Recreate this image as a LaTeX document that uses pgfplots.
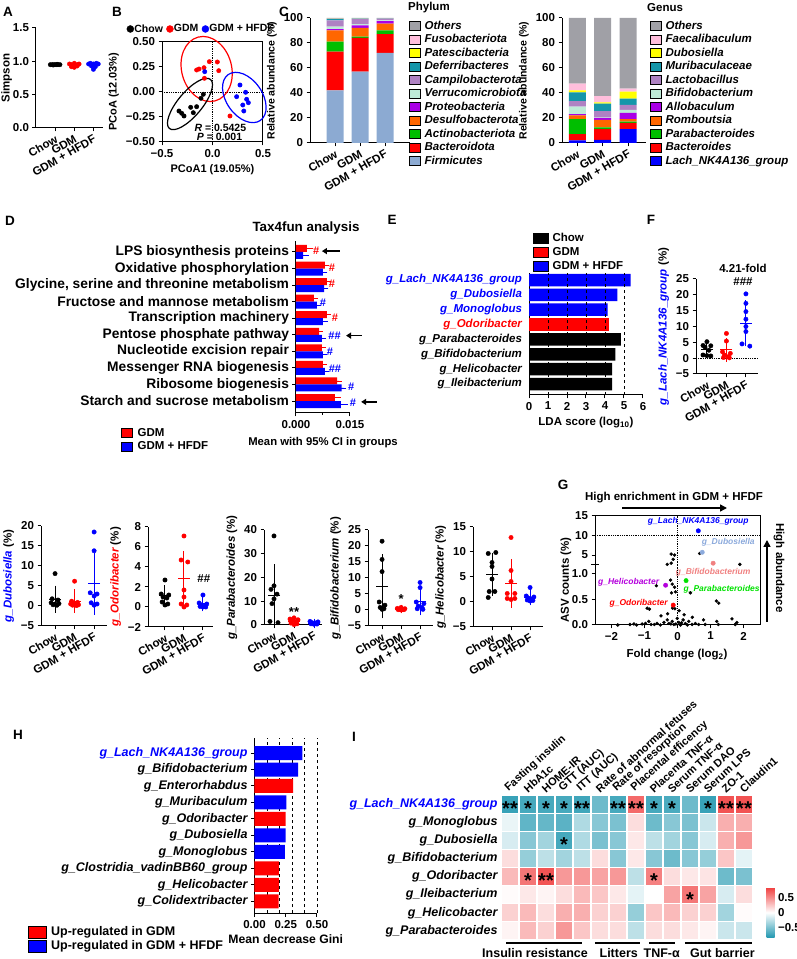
\documentclass[border=0pt]{standalone}
\usepackage{pgfplots}
\pgfplotsset{compat=1.18}
\usepackage{pgfplotstable}
\usepackage{fontspec}
\setmainfont{Liberation Sans}
\usetikzlibrary{arrows.meta}
\newcommand{\fs}[1]{\fontsize{#1}{#1}\selectfont\bfseries}
\definecolor{cRed}{RGB}{255,0,0}
\definecolor{cBlue}{RGB}{0,0,255}
\definecolor{cGray}{RGB}{160,160,166}
\definecolor{cPink}{RGB}{255,190,220}
\definecolor{cYel}{RGB}{255,255,0}
\definecolor{cTeal}{RGB}{20,150,170}
\definecolor{cLav}{RGB}{175,130,195}
\definecolor{cMint}{RGB}{190,235,215}
\definecolor{cPurp}{RGB}{170,0,230}
\definecolor{cOrng}{RGB}{255,102,0}
\definecolor{cGrn}{RGB}{0,190,0}
\definecolor{cFirm}{RGB}{140,170,210}
\definecolor{cDubo}{RGB}{140,170,220}
\definecolor{cSalm}{RGB}{240,128,128}
\definecolor{cLgrn}{RGB}{0,225,0}
\definecolor{cHeli}{RGB}{180,0,220}

\tikzset{sigstar/.style={font=\fs{20}, yshift=-4.5pt, inner sep=0pt}}
\pgfplotsset{
  gp/.style={scale only axis, anchor=south west, clip=false,
    axis x line*=bottom, axis y line*=left,
    axis line style={line width=1pt,-},
    tick align=outside, major tick length=3.5pt, minor tick length=2pt,
    tick style={black, line width=1pt},
    every tick label/.append style={font=\fs{11.5}},
    label style={font=\fs{11.5}},
    scaled ticks=false,
    /pgf/number format/assume math mode=true},
  dots/.style={only marks, mark=*, mark size=2.2pt},
  msd/.style={only marks, mark=-, mark size=6pt, mark options={line width=1pt},
    /pgfplots/error bars/y dir=both, /pgfplots/error bars/y explicit,
    /pgfplots/error bars/error bar style={line width=1pt},
    /pgfplots/error bars/error mark options={mark size=3.5pt, line width=1pt}},
  cat3/.style={xtick={1,2,3}, xticklabels={Chow,GDM,GDM + HFDF},
    xticklabel style={rotate=30, anchor=north east, inner sep=2pt}},
  sqleg/.style={legend image code/.code={\draw[##1] (0pt,-4.5pt) rectangle (11pt,4.5pt);}},
  sqlegE/.style={legend image code/.code={\draw[##1] (0pt,-5pt) rectangle (15pt,5pt);}},
  sqlegH/.style={legend image code/.code={\draw[##1] (0pt,-6pt) rectangle (18pt,6pt);}},
}

\pgfplotstableread{
x Firm Bact Acti Desu Prot Verr Camp Defe Pate Fuso Othe
1 42 31 8 9 1 2 5 1.2 0.1 0.2 0.5
2 57 27 1 7 2 1 4 0.4 0.1 0.2 0.3
3 72 15 3 5.5 2 0.5 1.5 0.1 0.1 0.1 0.2
}\phylum

\pgfplotstableread{
x Lach Bact Para Romb Allo Bifi Lact Muri Dubo Faec Othe
1 2 5 12 3 1 6 4.5 7 1.5 5.5 52.5
2 2.5 8.5 1.5 6 1.5 0.5 5 6 1 5 62.5
3 11 5 1 2 5 2.5 4 5 5.5 2.5 56.5
}\genus

\pgfplotstableread{
x y v
1 8 -0.75
2 8 -0.70
3 8 -0.70
4 8 -0.70
5 8 -0.72
6 8 -0.55
7 8 -0.70
8 8 0.65
9 8 -0.70
10 8 -0.68
11 8 -0.55
12 8 -0.75
13 8 0.75
14 8 0.75
1 7 -0.08
2 7 -0.60
3 7 -0.58
4 7 -0.62
5 7 -0.30
6 7 -0.45
7 7 -0.50
8 7 0.15
9 7 -0.55
10 7 -0.45
11 7 -0.50
12 7 -0.20
13 7 0.35
14 7 0.35
1 6 -0.15
2 6 -0.45
3 6 -0.35
4 6 -0.70
5 6 -0.30
6 6 -0.50
7 6 -0.45
8 6 0.10
9 6 -0.25
10 6 -0.35
11 6 -0.45
12 6 -0.15
13 6 0.35
14 6 0.45
1 5 0.15
2 5 -0.40
3 5 -0.25
4 5 -0.35
5 5 -0.25
6 5 0.15
7 5 -0.45
8 5 0.10
9 5 -0.45
10 5 -0.55
11 5 -0.45
12 5 -0.40
13 5 0.25
14 5 -0.10
1 4 0.30
2 4 0.60
3 4 0.75
4 4 0.45
5 4 0.45
6 4 0.40
7 4 0.45
8 4 -0.25
9 4 0.55
10 4 0.15
11 4 0.10
12 4 0.12
13 4 -0.55
14 4 -0.50
1 3 0.02
2 3 0.10
3 3 0.05
4 3 0.15
5 3 0.30
6 3 0.25
7 3 0.10
8 3 -0.10
9 3 0.00
10 3 0.40
11 3 0.60
12 3 0.40
13 3 -0.15
14 3 0.15
1 2 0.20
2 2 0.30
3 2 0.15
4 2 0.35
5 2 0.35
6 2 0.20
7 2 0.20
8 2 -0.40
9 2 0.25
10 2 0.30
11 2 0.20
12 2 0.20
13 2 -0.35
14 2 0.02
1 1 0.05
2 1 0.30
3 1 0.20
4 1 0.45
5 1 0.25
6 1 0.15
7 1 0.15
8 1 -0.25
9 1 0.15
10 1 0.15
11 1 0.10
12 1 0.05
13 1 -0.20
14 1 -0.20
}\heat

\begin{document}
\begin{tikzpicture}[font=\fs{11.5}]
\useasboundingbox (0,0) rectangle (797pt,959pt);
% panel letters
\node[font=\fs{13.5}] at (8pt,947pt) {A};
\node[font=\fs{13.5}] at (117pt,947pt) {B};
\node[font=\fs{13.5}] at (284pt,947pt) {C};
\node[font=\fs{13.5}] at (10pt,738pt) {D};
\node[font=\fs{13.5}] at (392pt,739pt) {E};
\node[font=\fs{13.5}] at (651pt,739pt) {F};
\node[font=\fs{13.5}] at (563pt,474pt) {G};
\node[font=\fs{13.5}] at (18pt,224pt) {H};
\node[font=\fs{13.5}] at (354pt,222pt) {I};

%%%%% A
\begin{axis}[gp, cat3, at={(36pt,831pt)}, width=67pt, height=100pt,
  xmin=0, xmax=3.5, ymin=0, ymax=1.5, ytick={0,0.5,1,1.5}, yticklabels={0.0,0.5,1.0,1.5},
  ylabel={Simpson}, ylabel shift=-6pt]
\addplot[dots, black] coordinates {(0.75,0.95)(0.85,0.95)(0.95,0.95)(1.05,0.95)(1.15,0.95)(1.25,0.95)(0.9,0.945)(1.1,0.955)};
\addplot[dots, cRed] coordinates {(1.75,0.96)(1.85,0.95)(2.0,0.97)(2.15,0.95)(2.25,0.96)(1.85,0.92)(2.0,0.91)(2.15,0.93)};
\addplot[dots, cBlue] coordinates {(2.75,0.96)(2.85,0.97)(3.0,0.96)(3.15,0.97)(3.25,0.96)(2.9,0.93)(3.0,0.88)(3.1,0.92)};
\end{axis}

%%%%% B
\begin{axis}[scale only axis, anchor=south west, clip=false, at={(162pt,817pt)}, width=101pt, height=100pt,
  xmin=-0.5, xmax=0.5, ymin=-0.5, ymax=0.5,
  axis line style={line width=1pt}, tick align=outside, major tick length=3.5pt, tick style={black, line width=1pt},
  xtick pos=left, ytick pos=left,
  every tick label/.append style={font=\fs{11.5}}, label style={font=\fs{11}},
  xtick={-0.5,0,0.5}, xticklabels={−0.5,0.0,0.5},
  ytick={-0.5,-0.25,0,0.25,0.5}, yticklabels={−0.50,−0.25,0.00,0.25,0.50},
  xlabel={PCoA1 (19.05\%)}, ylabel={PCoA (12.03\%)},
  legend columns=3,
  legend style={at={(-0.35,1.13)}, anchor=west, draw=none, fill=none, font=\fs{10.5}, inner sep=0pt,
    nodes={inner sep=0.5pt}, /tikz/every even column/.append style={column sep=3pt}},
  legend image code/.code={\draw[mark repeat=2,mark phase=2,#1] plot coordinates {(0pt,0pt)(3.5pt,0pt)(7pt,0pt)};},
  legend image post style={mark size=3.5pt}]
\draw[densely dotted, line width=0.8pt] (axis cs:0,-0.5) -- (axis cs:0,0.5);
\draw[densely dotted, line width=0.8pt] (axis cs:-0.5,0) -- (axis cs:0.5,0);
\addplot[dots, black] coordinates {(-0.332,-0.19)(-0.305,-0.213)(-0.282,-0.24)(-0.216,-0.153)(-0.19,-0.207)(-0.157,-0.147)(-0.114,-0.063)(-0.091,-0.023)};
\addlegendentry{Chow}
\addplot[dots, cRed] coordinates {(-0.157,0.22)(-0.133,0.23)(-0.084,0.243)(-0.031,0.303)(0.048,0.30)(0.062,0.213)(-0.08,0.137)(0.173,-0.24)};
\addlegendentry{GDM}
\addplot[dots, cBlue] coordinates {(-0.077,0.203)(0.272,0.07)(0.328,-0.003)(0.239,-0.047)(0.338,-0.073)(0.355,-0.107)(0.30,-0.13)(0.31,-0.19)};
\addlegendentry{GDM + HFDF}
\draw[cRed, line width=1.2pt, rotate around={15:(axis cs:-0.058,0.23)}] (axis cs:-0.058,0.23) ellipse [x radius=25pt, y radius=33pt];
\draw[black, line width=1.2pt, rotate around={50:(axis cs:-0.223,-0.12)}] (axis cs:-0.223,-0.12) ellipse [x radius=32pt, y radius=12pt];
\draw[cBlue, line width=1.2pt, rotate around={-55:(axis cs:0.315,-0.055)}] (axis cs:0.315,-0.055) ellipse [x radius=28pt, y radius=18pt];
\node[anchor=west, font=\fs{10.5}, inner sep=0pt] at (axis cs:-0.18,-0.357) {\textit{R} = 0.5425};
\node[anchor=west, font=\fs{10.5}, inner sep=0pt] at (axis cs:-0.157,-0.447) {\textit{P} = 0.001};
\end{axis}

%%%%% C phylum
\node[anchor=west, font=\fs{11.5}, inner sep=0pt] at (408pt,951pt) {Phylum};
\begin{axis}[gp, cat3, at={(310pt,816pt)}, width=100pt, height=125pt,
  ybar stacked, bar width=17pt, xmin=0, xmax=4, ymin=0, ymax=100, ytick={0,20,...,100},
  ylabel={Relative abundance (\%)}, ylabel style={font=\fs{10.5}}, reverse legend,
  every axis plot/.append style={sqleg, draw=none},
  legend cell align=left,
  legend style={at={(0.96,1.008)}, anchor=north west, draw=none, fill=none, font=\fs{11.5}\itshape,
    row sep=0pt, nodes={inner sep=1pt, text height=9pt, text depth=2.5pt},
    /tikz/every odd column/.append style={column sep=3pt}}]
\addplot[fill=cFirm] table[x=x,y=Firm]{\phylum}; \addlegendentry{Firmicutes}
\addplot[fill=cRed] table[x=x,y=Bact]{\phylum}; \addlegendentry{Bacteroidota}
\addplot[fill=cGrn] table[x=x,y=Acti]{\phylum}; \addlegendentry{Actinobacteriota}
\addplot[fill=cOrng] table[x=x,y=Desu]{\phylum}; \addlegendentry{Desulfobacterota}
\addplot[fill=cPurp] table[x=x,y=Prot]{\phylum}; \addlegendentry{Proteobacteria}
\addplot[fill=cMint] table[x=x,y=Verr]{\phylum}; \addlegendentry{Verrucomicrobiota}
\addplot[fill=cLav] table[x=x,y=Camp]{\phylum}; \addlegendentry{Campilobacterota}
\addplot[fill=cTeal] table[x=x,y=Defe]{\phylum}; \addlegendentry{Deferribacteres}
\addplot[fill=cYel] table[x=x,y=Pate]{\phylum}; \addlegendentry{Patescibacteria}
\addplot[fill=cPink] table[x=x,y=Fuso]{\phylum}; \addlegendentry{Fusobacteriota}
\addplot[fill=cGray] table[x=x,y=Othe]{\phylum}; \addlegendentry{Others}
\end{axis}

%%%%% C genus
\node[anchor=west, font=\fs{11.5}, inner sep=0pt] at (647pt,951pt) {Genus};
\begin{axis}[gp, cat3, at={(562pt,816pt)}, width=84pt, height=125pt,
  ybar stacked, bar width=17pt, xmin=0.4, xmax=3.7, ymin=0, ymax=100, ytick={0,20,...,100},
  ylabel={Relative abundance (\%)}, ylabel style={font=\fs{10.5}}, reverse legend,
  every axis plot/.append style={sqleg, draw=none},
  legend cell align=left,
  legend style={at={(1.012,1.008)}, anchor=north west, draw=none, fill=none, font=\fs{11.5}\itshape,
    row sep=0pt, nodes={inner sep=1pt, text height=9pt, text depth=2.5pt},
    /tikz/every odd column/.append style={column sep=3pt}}]
\addplot[fill=cBlue] table[x=x,y=Lach]{\genus}; \addlegendentry{Lach\_NK4A136\_group}
\addplot[fill=cRed] table[x=x,y=Bact]{\genus}; \addlegendentry{Bacteroides}
\addplot[fill=cGrn] table[x=x,y=Para]{\genus}; \addlegendentry{Parabacteroides}
\addplot[fill=cOrng] table[x=x,y=Romb]{\genus}; \addlegendentry{Romboutsia}
\addplot[fill=cPurp] table[x=x,y=Allo]{\genus}; \addlegendentry{Allobaculum}
\addplot[fill=cMint] table[x=x,y=Bifi]{\genus}; \addlegendentry{Bifidobacterium}
\addplot[fill=cLav] table[x=x,y=Lact]{\genus}; \addlegendentry{Lactobacillus}
\addplot[fill=cTeal] table[x=x,y=Muri]{\genus}; \addlegendentry{Muribaculaceae}
\addplot[fill=cYel] table[x=x,y=Dubo]{\genus}; \addlegendentry{Dubosiella}
\addplot[fill=cPink] table[x=x,y=Faec]{\genus}; \addlegendentry{Faecalibaculum}
\addplot[fill=cGray] table[x=x,y=Othe]{\genus}; \addlegendentry{Others}
\end{axis}

%%%%% D
\node[font=\fs{13.4}] at (306pt,731pt) {Tax4fun analysis};
\node[font=\fs{11.3}] at (323pt,516pt) {Mean with 95\% CI in groups};
\begin{axis}[gp, at={(296pt,546pt)}, width=54pt, height=172pt,
  xbar, bar width=7pt, xmin=0, xmax=0.015, ymin=0.28, ymax=10.66,
  xtick={0,0.015}, xticklabels={0.000,0.015}, minor xtick={0.0075},
  ytick={1,...,10}, yticklabel style={font=\fs{13.8}},
  yticklabels={Starch and sucrose metabolism, Ribosome biogenesis, Messenger RNA biogenesis, Nucleotide excision repair, Pentose phosphate pathway, Transcription machinery, Fructose and mannose metabolism, {Glycine, serine and threonine metabolism}, Oxidative phosphorylation, LPS biosynthesis proteins},
  every axis plot/.append style={sqleg, draw=none},
  legend cell align=left,
  legend style={at={(-3.296,-0.064)}, anchor=north west, draw=none, fill=none, font=\fs{11.5},
    row sep=0pt, nodes={inner sep=1pt, text height=9pt, text depth=2.5pt},
    /tikz/every odd column/.append style={column sep=4pt}}]
\addplot[fill=cRed, bar shift=3.5pt, error bars/.cd, x dir=plus, x explicit, error bar style={cRed, line width=0.8pt}, error mark options={cRed, mark size=2.5pt, line width=0.8pt}]
 coordinates {(0.0030,10) +- (0.0010,0) (0.0080,9) +- (0.0004,0) (0.0086,8) +- (0.0003,0) (0.0050,7) +- (0.0003,0) (0.0086,6) +- (0.0004,0) (0.0064,5) +- (0.0004,0) (0.0072,4) +- (0.0004,0) (0.0075,3) +- (0.0004,0) (0.0114,2) +- (0.0006,0) (0.0108,1) +- (0.0010,0)};
\addlegendentry{GDM}
\addplot[fill=cBlue, bar shift=-3.5pt, error bars/.cd, x dir=plus, x explicit, error bar style={cBlue, line width=0.8pt}, error mark options={cBlue, mark size=2.5pt, line width=0.8pt}]
 coordinates {(0.0020,10) +- (0.0008,0) (0.0075,9) +- (0.0005,0) (0.0078,8) +- (0.0005,0) (0.0058,7) +- (0.0004,0) (0.0075,6) +- (0.0006,0) (0.0072,5) +- (0.0005,0) (0.0075,4) +- (0.0005,0) (0.0080,3) +- (0.0004,0) (0.0127,2) +- (0.0005,0) (0.0125,1) +- (0.0012,0)};
\addlegendentry{GDM + HFDF}
\node[cRed, font=\fs{11}] at (axis cs:0.0056,10.05) {\#};
\node[cRed, font=\fs{11}] at (axis cs:0.0100,9.05) {\#};
\node[cRed, font=\fs{11}] at (axis cs:0.0100,8.05) {\#};
\node[cBlue, font=\fs{11}] at (axis cs:0.0075,6.95) {\#};
\node[cRed, font=\fs{11}] at (axis cs:0.0108,6.05) {\#};
\node[cBlue, font=\fs{11}] at (axis cs:0.0107,4.95) {\#\#};
\node[cBlue, font=\fs{11}] at (axis cs:0.0094,3.95) {\#};
\node[cBlue, font=\fs{11}] at (axis cs:0.0108,2.95) {\#\#};
\node[cBlue, font=\fs{11}] at (axis cs:0.0153,1.85) {\#};
\node[cBlue, font=\fs{11}] at (axis cs:0.0158,0.9) {\#};
\draw[-{Triangle[width=6pt,length=5pt]}, line width=1.5pt] (axis cs:0.0122,10.05) -- (axis cs:0.0072,10.05);
\draw[-{Triangle[width=6pt,length=5pt]}, line width=1.5pt] (axis cs:0.0183,4.95) -- (axis cs:0.0139,4.95);
\draw[-{Triangle[width=6pt,length=5pt]}, line width=1.5pt] (axis cs:0.0225,0.95) -- (axis cs:0.0181,0.95);
\end{axis}

%%%%% E
\begin{axis}[gp, at={(529pt,564pt)}, width=114pt, height=122.4pt,
  xbar, bar width=12.5pt, xmin=0, xmax=6, ymin=0.26, ymax=8.5,
  xtick={0,...,6}, ytick={1,...,8}, ytick style={draw=none},
  yticklabel style={font=\fs{11.5}\itshape},
  yticklabels={g\_Ileibacterium, g\_Helicobacter, g\_Bifidobacterium, g\_Parabacteroides, \textcolor{cRed}{g\_Odoribacter}, \textcolor{cBlue}{g\_Monoglobus}, \textcolor{cBlue}{g\_Dubosiella}, \textcolor{cBlue}{g\_Lach\_NK4A136\_group}},
  xlabel={LDA score (log\textsubscript{10})},
  every axis plot/.append style={sqlegE, draw=none},
  legend cell align=left,
  legend style={at={(0.009,1.356)}, anchor=north west, draw=none, fill=none, font=\fs{11.5},
    row sep=0pt, nodes={inner sep=1pt, text height=9.5pt, text depth=2.5pt},
    /tikz/every odd column/.append style={column sep=3pt}}]
\addplot[fill=black, bar shift=0pt] coordinates {(4.38,1)(4.38,2)(4.54,3)(4.84,4)};
\addlegendentry{Chow}
\addplot[fill=cRed, bar shift=0pt] coordinates {(4.23,5)};
\addlegendentry{GDM}
\addplot[fill=cBlue, bar shift=0pt] coordinates {(4.14,6)(4.65,7)(5.35,8)};
\addlegendentry{GDM + HFDF}
\draw[dashed, line width=0.9pt] (axis cs:1,0.26) -- (axis cs:1,8.5);
\draw[dashed, line width=0.9pt] (axis cs:2,0.26) -- (axis cs:2,8.5);
\draw[dashed, line width=0.9pt] (axis cs:3,0.26) -- (axis cs:3,8.5);
\draw[dashed, line width=0.9pt] (axis cs:4,0.26) -- (axis cs:4,8.5);
\draw[dashed, line width=0.9pt] (axis cs:5,0.26) -- (axis cs:5,8.5);
\end{axis}

%%%%% F
\begin{axis}[gp, cat3, at={(696pt,585pt)}, width=62pt, height=95pt,
  xmin=0.44, xmax=3.62, ymin=-5, ymax=25,
  ytick={-5,0,5,10,15,20,25}, yticklabels={−5,0,5,10,15,20,25},
  ylabel={\textcolor{cBlue}{\itshape g\_Lach\_NK4A136\_group} (\%)}]
\draw[densely dotted, line width=0.8pt] (axis cs:0.44,0) -- (axis cs:3.62,0);
\addplot[dots, black] coordinates {(1.0,5.2)(0.8,4.0)(1.2,3.9)(0.9,3.5)(1.1,2.5)(0.8,1.0)(1.0,0.8)(1.2,0.7)};
\addplot[black, msd] coordinates {(1,2.7) +- (0,1.7)};
\addplot[dots, cRed] coordinates {(2.0,7.8)(2.0,5.4)(1.8,2.0)(2.2,1.5)(1.9,1.0)(2.1,0.5)(1.85,0.2)(2.15,0.1)};
\addplot[cRed, msd] coordinates {(2,2.6) +- (0,2.7)};
\addplot[dots, cBlue] coordinates {(3.0,20.3)(3.0,17.3)(3.0,14.7)(3.0,12.3)(3.0,10)(3.0,8.4)(2.8,4.5)(3.2,3.8)};
\addplot[cBlue, msd] coordinates {(3,11.0) +- (0,6.2)};
\node[font=\fs{11.5}] at (axis cs:2.85,28.5) {4.21-fold};
\node[font=\fs{11.5}] at (axis cs:2.85,24.2) {\#\#\#};
\end{axis}

%%%%% bottom row: Dubosiella
\begin{axis}[gp, cat3, at={(41pt,333pt)}, width=66pt, height=100pt,
  xmin=0.28, xmax=3.66, ymin=-5, ymax=20,
  ytick={-5,0,5,10,15,20}, yticklabels={−5,0,5,10,15,20},
  ylabel={\textcolor{cBlue}{\itshape g\_Dubosiella} (\%)}]
\addplot[dots, black] coordinates {(1.0,8.1)(0.85,1.8)(1.15,1.5)(0.8,0.8)(1.2,0.6)(0.9,0.3)(1.1,0.2)(1.0,0.5)};
\addplot[black, msd] coordinates {(1,1.7) +- (0,2.5)};
\addplot[dots, cRed] coordinates {(2.0,6.2)(1.85,1.2)(2.15,0.9)(1.8,0.5)(2.2,0.3)(1.9,0.2)(2.1,0.1)(2.0,0.6)};
\addplot[cRed, msd] coordinates {(2,1.2) +- (0,2.1)};
\addplot[dots, cBlue] coordinates {(3.0,18.5)(3.0,13.8)(2.8,3.3)(3.15,3.0)(3.0,2.5)(2.85,0.8)(3.15,0.5)(3.0,0.2)};
\addplot[cBlue, msd] coordinates {(3,5.5) +- (0,6.8)};
\end{axis}

%%%%% Odoribacter
\begin{axis}[gp, cat3, at={(148pt,332pt)}, width=65pt, height=100pt,
  xmin=0.105, xmax=3.53, ymin=-2, ymax=8,
  ytick={-2,0,2,4,6,8}, yticklabels={−2,0,2,4,6,8},
  ylabel={\textcolor{cRed}{\itshape g\_Odoribacter} (\%)}]
\addplot[dots, black] coordinates {(1.0,2.7)(0.8,1.3)(1.2,1.2)(0.9,1.0)(1.1,0.9)(0.85,0.5)(1.15,0.3)(1.0,0.2)};
\addplot[black, msd] coordinates {(1,1.1) +- (0,0.7)};
\addplot[dots, cRed] coordinates {(2.0,7.1)(1.85,4.7)(2.2,4.5)(2.0,1.7)(2.0,1.0)(1.85,0.3)(2.15,0.2)(2.0,0.0)};
\addplot[cRed, msd] coordinates {(2,2.8) +- (0,2.45)};
\addplot[dots, cBlue] coordinates {(3.0,1.2)(2.8,0.4)(3.2,0.3)(2.9,0.2)(3.1,0.1)(2.85,0.05)(3.15,0.0)(3.0,0.0)};
\addplot[cBlue, msd] coordinates {(3,0.3) +- (0,0.4)};
\node[font=\fs{11.5}] at (axis cs:3.05,2.85) {\#\#};
\end{axis}

%%%%% Parabacteroides
\begin{axis}[gp, cat3, at={(264pt,334pt)}, width=58pt, height=95pt,
  xmin=0.5, xmax=3.4, ymin=0, ymax=40, ytick={0,10,...,40},
  ylabel={\itshape g\_Parabacteroides \upshape(\%)}]
\addplot[dots, black] coordinates {(1.0,37.5)(1.0,16.5)(0.85,15)(1.15,13)(1.0,11)(0.9,9)(0.8,1.5)(1.2,1.0)};
\addplot[black, msd] coordinates {(1,12.5) +- (0,11.5)};
\addplot[dots, cRed] coordinates {(2.0,3.0)(1.8,2.5)(2.2,2.2)(1.9,1.8)(2.1,1.3)(1.85,0.8)(2.15,0.5)(2.0,0.2)};
\addplot[cRed, msd] coordinates {(2,1.5) +- (0,1.0)};
\addplot[dots, cBlue] coordinates {(2.8,1.5)(3.2,1.3)(2.9,1.0)(3.1,0.9)(3.0,0.7)(2.85,0.5)(3.15,0.4)(3.0,0.3)};
\addplot[cBlue, msd] coordinates {(3,0.8) +- (0,0.4)};
\node[font=\fs{13}] at (axis cs:2,5.5) {**};
\end{axis}

%%%%% Bifidobacterium
\begin{axis}[gp, cat3, at={(368pt,333pt)}, width=65pt, height=96pt,
  xmin=0.26, xmax=3.68, ymin=-5, ymax=25,
  ytick={-5,0,5,10,15,20,25}, yticklabels={−5,0,5,10,15,20,25},
  ylabel={\itshape g\_Bifidobacterium \upshape(\%)}]
\addplot[dots, black] coordinates {(1.0,21.5)(1.0,15.8)(1.0,12)(0.85,2.5)(1.15,1.5)(0.9,0.8)(1.1,0.4)(1.0,0.2)};
\addplot[black, msd] coordinates {(1,7.4) +- (0,8.9)};
\addplot[dots, cRed] coordinates {(2.0,0.8)(1.8,0.5)(2.2,0.4)(1.9,0.3)(2.1,0.2)(1.85,0.1)(2.15,0.1)(2.0,0.0)};
\addplot[cRed, msd] coordinates {(2,0.3) +- (0,0.3)};
\addplot[dots, cBlue] coordinates {(3.0,8.6)(3.0,7.0)(2.8,2.5)(3.2,2.0)(2.9,1.2)(3.1,0.8)(2.85,0.4)(3.15,0.2)};
\addplot[cBlue, msd] coordinates {(3,2.6) +- (0,3.2)};
\node[font=\fs{13}] at (axis cs:2,3.5) {*};
\end{axis}

%%%%% Helicobacter
\begin{axis}[gp, cat3, at={(473pt,332pt)}, width=70pt, height=100pt,
  xmin=0, xmax=3.68, ymin=-5, ymax=15,
  ytick={-5,0,5,10,15}, yticklabels={−5,0,5,10,15},
  ylabel={\itshape g\_Helicobacter \upshape(\%)}]
\addplot[dots, black] coordinates {(0.8,9.7)(1.2,9.9)(1.0,7.9)(1.0,7.1)(1.0,4.6)(0.85,2.1)(1.15,2.1)(0.8,0.9)};
\addplot[black, msd] coordinates {(1,5.5) +- (0,3.6)};
\addplot[dots, cRed] coordinates {(2.0,12.9)(2.0,6.3)(2.0,4.1)(1.8,1.7)(2.2,1.7)(1.8,0.7)(2.2,0.7)(2.0,0.5)};
\addplot[cRed, msd] coordinates {(2,3.7) +- (0,4.2)};
\addplot[dots, cBlue] coordinates {(3.0,2.9)(2.8,1.2)(3.2,1.0)(2.9,0.8)(3.1,0.6)(2.85,0.4)(3.15,0.3)(3.0,0.2)};
\addplot[cBlue, msd] coordinates {(3,0.9) +- (0,0.9)};
\end{axis}

%%%%% G
\node[font=\fs{11.5}] at (674pt,461pt) {High enrichment in GDM + HFDF};
\draw[-{Triangle[width=7pt,length=7pt]}, line width=1.5pt] (622pt,451pt) -- (727pt,451pt);
\node[font=\fs{11.5}, rotate=-90] at (779pt,391pt) {High abundance};
\draw[-{Triangle[width=7pt,length=7pt]}, line width=1.5pt] (767pt,337pt) -- (767pt,419pt);
\node[font=\fs{11.5}] at (677pt,304pt) {Fold change (log\textsubscript{2})};
\node[font=\fs{11.5}, rotate=90] at (566pt,379pt) {ASV counts (\%)};
\draw[line width=1pt] (595pt,334pt) -- (760pt,334pt) -- (760pt,443pt) -- (595pt,443pt);
\begin{axis}[gp, at={(595pt,394pt)}, width=165pt, height=49pt,
  xmin=-2.5, xmax=2.5, ymin=2.44, ymax=15, axis x line=none, ytick={5,10,15}]
\draw[densely dotted, line width=0.8pt] (axis cs:-2.5,10) -- (axis cs:2.5,10);
\draw[densely dotted, line width=0.8pt] (axis cs:0,2.44) -- (axis cs:0,15);
\addplot[dots, black, mark size=1.5pt] coordinates {(0.67,5.4)(-0.19,5.25)(-0.09,5.0)(-0.13,3.9)(-0.31,2.6)(-0.19,2.9)(1.89,2.6)};
\addplot[dots, cBlue] coordinates {(0.63,11.2)};
\addplot[dots, cDubo] coordinates {(0.75,5.7)};
\addplot[dots, cSalm] coordinates {(1.08,2.9)};
\node[cBlue, font=\fs{8.5}\itshape, anchor=south, yshift=2pt] at (axis cs:0.63,11.2) {g\_Lach\_NK4A136\_group};
\node[cDubo, font=\fs{8.5}\itshape, anchor=south west, xshift=-4pt, yshift=2pt] at (axis cs:0.75,5.7) {g\_Dubosiella};
\node[cSalm, font=\fs{8.5}\itshape, anchor=north, yshift=-2pt] at (axis cs:1.08,2.9) {g\_Bifidobacterium};
\end{axis}
\draw[line width=1pt] (591pt,394pt) -- (599pt,394pt);
\begin{axis}[gp, at={(595pt,334pt)}, width=165pt, height=60pt,
  xmin=-2.5, xmax=2.5, ymin=0, ymax=1.176,
  xtick={-2,-1,0,1,2}, xticklabels={−2,−1,0,1,2},
  ytick={0,0.5,1}, yticklabels={0.0,0.5,1.0}]
\draw[densely dotted, line width=0.8pt] (axis cs:0,0) -- (axis cs:0,1.176);
\addplot[dots, black, mark size=1.5pt] coordinates {(-0.64,0.77)(-0.21,0.88)(-0.16,0.8)(-0.09,0.74)(-0.18,0.63)(-0.06,0.65)(0.39,0.63)(1.18,0.47)(1.25,0.43)(-0.92,0.33)(-0.85,0.31)(-0.15,0.33)(-0.08,0.32)(0.05,0.28)(-0.3,0.22)(0.2,0.2)(-0.5,0.18)(0.45,0.15)
(-1.81,0.0)(-1.44,0.01)(-1.32,0.02)(-1.24,0.0)(-1.07,0.02)(-0.97,0.03)(-0.87,0.07)(-0.8,0.01)(-0.62,0.03)(-0.52,0.0)(-0.41,0.05)(-0.31,0.1)(-0.26,0.03)(-0.16,0.07)(-0.11,0.01)(-0.01,0.13)(0.04,0.05)(0.09,0.0)(0.17,0.1)(0.24,0.03)(0.34,0.07)(0.44,0.01)(0.54,0.03)(0.64,0.01)(0.79,0.1)(0.84,0.01)(1.19,0.07)(1.24,0.01)(1.65,0.12)(1.75,0.01)(1.8,0.05)(-0.05,0.02)(0.12,0.04)(-0.2,0.02)(0.3,0.0)(-0.7,0.01)};
\addplot[dots, cLgrn] coordinates {(0.26,0.87)};
\addplot[dots, cHeli] coordinates {(-0.36,0.78)};
\addplot[dots, cRed] coordinates {(-0.13,0.39)};
\node[cLgrn, font=\fs{8.5}\itshape, anchor=north west, xshift=-6pt, yshift=-1pt] at (axis cs:0.26,0.87) {g\_Parabacteroides};
\node[cHeli, font=\fs{8.5}\itshape, anchor=east, xshift=-3pt, yshift=3pt] at (axis cs:-0.36,0.78) {g\_Helicobacter};
\node[cRed, font=\fs{8.5}\itshape, anchor=east, xshift=-2pt, yshift=2pt] at (axis cs:-0.13,0.39) {g\_Odoribacter};
\end{axis}

%%%%% H
\begin{axis}[gp, at={(254.5pt,46pt)}, width=62.5pt, height=175pt,
  xbar, bar width=14pt, xmin=0, xmax=0.5, ymin=0.3, ymax=10.91,
  xtick={0,0.25,0.5}, xticklabels={0.00,0.25,0.50},
  ytick={1,...,10}, yticklabel style={font=\fs{12.5}\itshape},
  yticklabels={g\_Colidextribacter, g\_Helicobacter, g\_Clostridia\_vadinBB60\_group, g\_Monoglobus, g\_Dubosiella, g\_Odoribacter, g\_Muribaculum, g\_Enterorhabdus, g\_Bifidobacterium, \textcolor{cBlue}{g\_Lach\_NK4A136\_group}},
  xlabel={Mean decrease Gini}, xlabel style={font=\fs{12.2}},
  every axis plot/.append style={sqlegH, draw=none},
  legend cell align=left,
  legend style={at={(-3.672,-0.057)}, anchor=north west, draw=none, fill=none, font=\fs{12.5},
    row sep=0pt, nodes={inner sep=0.5pt, text height=10pt, text depth=3pt},
    /tikz/every odd column/.append style={column sep=4pt}}]
\draw[dashed, line width=0.9pt] (axis cs:0.1,0.3) -- (axis cs:0.1,10.91);
\draw[dashed, line width=0.9pt] (axis cs:0.2,0.3) -- (axis cs:0.2,10.91);
\draw[dashed, line width=0.9pt] (axis cs:0.3,0.3) -- (axis cs:0.3,10.91);
\draw[dashed, line width=0.9pt] (axis cs:0.4,0.3) -- (axis cs:0.4,10.91);
\draw[dashed, line width=0.9pt] (axis cs:0.5,0.3) -- (axis cs:0.5,10.91);
\addplot[fill=cRed, bar shift=0pt] coordinates {(0.31,8)(0.25,6)(0.196,3)(0.196,2)(0.194,1)};
\addlegendentry{Up-regulated in GDM}
\addplot[fill=cBlue, bar shift=0pt] coordinates {(0.384,10)(0.35,9)(0.256,7)(0.25,5)(0.244,4)};
\addlegendentry{Up-regulated in GDM + HFDF}
\end{axis}

%%%%% I
\begin{axis}[scale only axis, anchor=south west, clip=false, at={(501pt,19pt)}, width=252pt, height=145pt,
  xmin=0.5, xmax=14.5, ymin=0.5, ymax=8.5, axis line style={draw=none}, major tick length=0pt,
  xtick={1,...,14}, xticklabel pos=upper,
  xticklabels={Fasting insulin, HbA1c, HOME-IR, GTT (AUC), ITT (AUC), Rate of abnormal fetuses, Rate of resorption, Placental efficency, Placenta TNF-α, Serum TNF-α, Serum DAO, Serum LPS, ZO-1, Claudin1},
  xticklabel style={rotate=42, anchor=south west, font=\fs{11}, inner sep=1pt},
  ytick={1,...,8}, yticklabel style={font=\fs{12.5}\itshape},
  yticklabels={g\_Parabacteroides, g\_Helicobacter, g\_Ileibacterium, g\_Odoribacter, g\_Bifidobacterium, g\_Dubosiella, g\_Monoglobus, \textcolor{cBlue}{g\_Lach\_NK4A136\_group}},
  colormap={hm}{rgb255=(30,150,175) rgb255=(255,255,255) rgb255=(240,60,60)},
  point meta min=-0.85, point meta max=0.85,
  colorbar, colorbar style={at={(parent axis.south east)}, anchor=south west, xshift=5pt, yshift=2pt,
    width=8pt, height=51pt, ytick={-0.5,0,0.5}, yticklabels={−0.5,0,0.5},
    yticklabel style={font=\fs{11.5}}, axis line style={draw=none}, major tick length=0pt}]
\addplot[scatter, only marks, mark=square*, mark size=9pt, scatter src=explicit,
  scatter/use mapped color={draw=white, fill=mapped color}, mark options={line width=1.1pt}]
  table[x=x, y=y, meta=v] {\heat};
\end{axis}
% overlay axis for significance stars and group brackets
\begin{axis}[scale only axis, anchor=south west, clip=false, at={(501pt,19pt)}, width=252pt, height=145pt,
  xmin=0.5, xmax=14.5, ymin=0.5, ymax=8.5, hide axis]
\node[sigstar] at (axis cs:1,8) {**};
\node[sigstar] at (axis cs:2,8) {*};
\node[sigstar] at (axis cs:3,8) {*};
\node[sigstar] at (axis cs:4,8) {*};
\node[sigstar] at (axis cs:5,8) {**};
\node[sigstar] at (axis cs:7,8) {**};
\node[sigstar] at (axis cs:8,8) {**};
\node[sigstar] at (axis cs:9,8) {*};
\node[sigstar] at (axis cs:10,8) {*};
\node[sigstar] at (axis cs:12,8) {*};
\node[sigstar] at (axis cs:13,8) {**};
\node[sigstar] at (axis cs:14,8) {**};
\node[sigstar] at (axis cs:4,6) {*};
\node[sigstar] at (axis cs:2,4) {*};
\node[sigstar] at (axis cs:3,4) {**};
\node[sigstar] at (axis cs:9,4) {*};
\node[sigstar] at (axis cs:11,3) {*};
\draw[line width=1.2pt] (axis cs:0.78,0.33) -- (axis cs:5.0,0.33);
\draw[line width=1.2pt] (axis cs:5.72,0.33) -- (axis cs:8.22,0.33);
\draw[line width=1.2pt] (axis cs:8.72,0.33) -- (axis cs:10.17,0.33);
\draw[line width=1.2pt] (axis cs:10.72,0.33) -- (axis cs:14.44,0.33);
\node[font=\fs{12.5}] at (axis cs:2.39,-0.22) {Insulin resistance};
\node[font=\fs{12.5}] at (axis cs:7.04,-0.22) {Litters};
\node[font=\fs{12.5}] at (axis cs:9.43,-0.22) {TNF-α};
\node[font=\fs{12.5}] at (axis cs:12.8,-0.22) {Gut barrier};
\end{axis}
\end{tikzpicture}
\end{document}
